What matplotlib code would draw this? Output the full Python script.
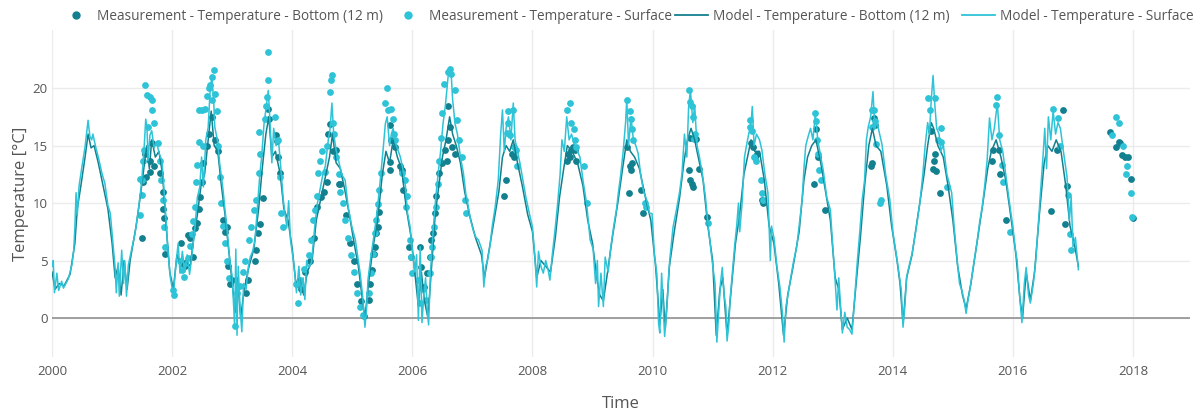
import matplotlib.pyplot as plt
from matplotlib.lines import Line2D
import numpy as np

# Model - surface temperature (decimal year, degC)
model_time = [
    2000.00, 2000.02, 2000.04, 2000.08, 2000.11, 2000.16, 2000.19, 2000.27, 2000.33, 2000.36,
    2000.38, 2000.40, 2000.42, 2000.45, 2000.49, 2000.55, 2000.60, 2000.63, 2000.66, 2000.68,
    2000.73, 2000.77, 2000.83, 2000.88, 2000.93, 2000.97, 2000.99, 2001.03, 2001.05, 2001.07,
    2001.10, 2001.12, 2001.16, 2001.19, 2001.21, 2001.24, 2001.27, 2001.31, 2001.38, 2001.43,
    2001.49, 2001.53, 2001.56, 2001.58, 2001.60, 2001.63, 2001.66, 2001.70, 2001.74, 2001.79,
    2001.83, 2001.86, 2001.88, 2001.93, 2001.97, 2002.02, 2002.06, 2002.10, 2002.13, 2002.17,
    2002.21, 2002.25, 2002.29, 2002.33, 2002.38, 2002.42, 2002.46, 2002.49, 2002.52, 2002.56,
    2002.60, 2002.63, 2002.66, 2002.69, 2002.71, 2002.76, 2002.79, 2002.82, 2002.85, 2002.88,
    2002.91, 2002.93, 2002.96, 2003.00, 2003.02, 2003.04, 2003.06, 2003.08, 2003.10, 2003.13,
    2003.16, 2003.19, 2003.23, 2003.27, 2003.30, 2003.34, 2003.38, 2003.43, 2003.46, 2003.49,
    2003.53, 2003.57, 2003.60, 2003.63, 2003.66, 2003.69, 2003.73, 2003.77, 2003.81, 2003.85,
    2003.88, 2003.91, 2003.94, 2003.97, 2004.01, 2004.04, 2004.07, 2004.11, 2004.14, 2004.18,
    2004.21, 2004.24, 2004.27, 2004.32, 2004.38, 2004.42, 2004.46, 2004.51, 2004.55, 2004.60,
    2004.63, 2004.66, 2004.69, 2004.73, 2004.76, 2004.82, 2004.88, 2004.93, 2004.99, 2005.05,
    2005.10, 2005.13, 2005.17, 2005.21, 2005.24, 2005.26, 2005.30, 2005.35, 2005.41, 2005.46,
    2005.51, 2005.55, 2005.58, 2005.62, 2005.65, 2005.68, 2005.72, 2005.76, 2005.80, 2005.84,
    2005.88, 2005.92, 2005.96, 2006.01, 2006.04, 2006.07, 2006.10, 2006.13, 2006.16, 2006.19,
    2006.22, 2006.25, 2006.27, 2006.30, 2006.35, 2006.39, 2006.43, 2006.47, 2006.51, 2006.55,
    2006.60, 2006.64, 2006.67, 2006.71, 2006.75, 2006.80, 2006.85, 2006.89, 2006.93, 2006.97,
    2007.02, 2007.06, 2007.10, 2007.16, 2007.19, 2007.22, 2007.25, 2007.29, 2007.33, 2007.38,
    2007.43, 2007.47, 2007.50, 2007.53, 2007.56, 2007.60, 2007.64, 2007.68, 2007.71, 2007.75,
    2007.79, 2007.84, 2007.89, 2007.96, 2008.00, 2008.04, 2008.07, 2008.10, 2008.14, 2008.18,
    2008.22, 2008.26, 2008.29, 2008.33, 2008.38, 2008.42, 2008.46, 2008.49, 2008.53, 2008.57,
    2008.61, 2008.65, 2008.70, 2008.75, 2008.79, 2008.84, 2008.90, 2008.96, 2009.01, 2009.05,
    2009.08, 2009.10, 2009.14, 2009.18, 2009.21, 2009.26, 2009.30, 2009.35, 2009.40, 2009.43,
    2009.47, 2009.51, 2009.55, 2009.57, 2009.60, 2009.64, 2009.68, 2009.72, 2009.76, 2009.80,
    2009.85, 2009.90, 2009.95, 2009.99, 2010.03, 2010.07, 2010.10, 2010.12, 2010.15, 2010.18,
    2010.20, 2010.24, 2010.27, 2010.29, 2010.34, 2010.40, 2010.45, 2010.49, 2010.53, 2010.57,
    2010.60, 2010.63, 2010.67, 2010.70, 2010.74, 2010.78, 2010.83, 2010.88, 2010.92, 2010.99,
    2011.04, 2011.07, 2011.10, 2011.13, 2011.16, 2011.19, 2011.22, 2011.24, 2011.27, 2011.29,
    2011.33, 2011.37, 2011.40, 2011.43, 2011.45, 2011.49, 2011.53, 2011.57, 2011.60, 2011.64,
    2011.66, 2011.69, 2011.73, 2011.78, 2011.82, 2011.87, 2011.92, 2011.96, 2011.98, 2012.02,
    2012.07, 2012.12, 2012.16, 2012.19, 2012.22, 2012.26, 2012.30, 2012.35, 2012.40, 2012.44,
    2012.49, 2012.52, 2012.55, 2012.59, 2012.63, 2012.67, 2012.71, 2012.75, 2012.80, 2012.84,
    2012.90, 2012.96, 2012.99, 2013.03, 2013.07, 2013.10, 2013.13, 2013.16, 2013.20, 2013.24,
    2013.28, 2013.32, 2013.37, 2013.41, 2013.45, 2013.49, 2013.53, 2013.56, 2013.59, 2013.63,
    2013.67, 2013.70, 2013.74, 2013.78, 2013.82, 2013.88, 2013.95, 2014.00, 2014.07, 2014.10,
    2014.14, 2014.17, 2014.20, 2014.23, 2014.27, 2014.32, 2014.38, 2014.45, 2014.50, 2014.54,
    2014.58, 2014.61, 2014.64, 2014.67, 2014.70, 2014.73, 2014.77, 2014.80, 2014.84, 2014.90,
    2014.98, 2015.02, 2015.07, 2015.11, 2015.15, 2015.19, 2015.22, 2015.25, 2015.29, 2015.34,
    2015.40, 2015.45, 2015.49, 2015.53, 2015.57, 2015.61, 2015.65, 2015.69, 2015.74, 2015.78,
    2015.83, 2015.87, 2015.93, 2016.00, 2016.04, 2016.07, 2016.11, 2016.15, 2016.19, 2016.22,
    2016.26, 2016.29, 2016.34, 2016.38, 2016.42, 2016.46, 2016.50, 2016.53, 2016.56, 2016.59,
    2016.63, 2016.67, 2016.71, 2016.75, 2016.79, 2016.84, 2016.90, 2016.94, 2016.97, 2017.00,
    2017.04, 2017.09,
]
model_surface = [
    4.5, 5.0, 2.2, 3.9, 2.4, 3.2, 2.6, 3.4, 4.6, 5.8,
    7.9, 10.9, 8.9, 11.5, 12.9, 14.9, 17.2, 15.8, 15.5, 16.0,
    14.8, 14.0, 12.6, 11.7, 9.8, 9.1, 7.9, 5.5, 4.4, 2.2,
    4.8, 1.9, 5.9, 3.0, 5.0, 1.9, 4.6, 5.6, 7.3, 9.1,
    11.7, 14.5, 17.3, 16.6, 13.7, 15.9, 16.3, 14.8, 15.3, 14.2,
    13.7, 11.5, 10.0, 5.9, 3.5, 2.0, 4.5, 6.5, 3.9, 5.8,
    4.0, 5.5, 3.8, 5.5, 7.9, 10.5, 11.4, 14.0, 11.4, 15.5,
    16.6, 19.6, 21.0, 19.0, 16.6, 15.3, 13.5, 12.3, 11.0, 9.4,
    8.0, 6.8, 5.0, 3.6, 1.5, -0.7, 6.0, -1.5, 4.5, 1.0,
    -1.2, 3.0, 2.5, 4.5, 5.3, 5.8, 6.8, 10.3, 12.5, 14.0,
    16.9, 18.5, 19.8, 17.0, 13.5, 16.5, 15.0, 15.5, 13.0, 10.3,
    9.0, 7.9, 10.2, 6.8, 5.3, 4.0, 2.2, 4.5, 2.0, 3.5,
    1.6, 5.0, 4.4, 4.8, 8.3, 10.0, 11.1, 12.5, 13.2, 15.5,
    16.5, 18.7, 16.0, 14.6, 14.0, 12.5, 12.0, 9.7, 8.0, 6.8,
    5.0, 3.9, 2.0, -0.8, 1.0, 3.3, 5.0, 6.8, 9.1, 11.7,
    14.5, 16.9, 17.5, 15.0, 16.0, 16.5, 15.2, 14.6, 14.0, 13.0,
    11.7, 9.1, 8.0, 5.3, 4.0, 5.5, -0.2, 6.2, -0.4, 2.0,
    3.5, 0.5, -0.6, 3.9, 7.9, 10.5, 12.6, 14.5, 16.9, 18.5,
    21.3, 21.8, 19.0, 16.9, 16.0, 14.0, 12.6, 10.8, 9.7, 8.5,
    7.5, 7.0, 6.8, 5.9, 2.7, 4.5, 5.0, 6.2, 8.0, 9.7,
    12.0, 16.0, 18.1, 14.5, 16.5, 17.5, 15.5, 18.7, 15.5, 14.5,
    13.5, 12.0, 10.5, 8.8, 7.9, 5.3, 2.7, 5.8, 4.5, 3.9,
    5.0, 4.2, 3.3, 5.5, 7.9, 10.0, 12.5, 15.5, 14.5, 17.5,
    15.5, 16.0, 15.0, 14.5, 14.0, 12.0, 10.0, 6.8, 6.0, 3.0,
    5.0, 1.0, 3.9, 1.0, 5.3, 4.0, 6.0, 7.9, 9.5, 10.9,
    12.5, 14.5, 17.0, 19.0, 15.0, 17.5, 15.5, 15.0, 14.3, 12.5,
    11.0, 10.3, 9.1, 9.1, 5.5, 3.9, -0.5, -1.3, 3.9, 0.5,
    -1.6, 1.0, 4.0, 5.3, 7.9, 9.5, 11.0, 12.6, 16.0, 14.0,
    18.4, 19.8, 17.0, 18.5, 15.0, 14.0, 12.5, 10.5, 8.3, 5.0,
    3.0, -2.1, 0.5, 3.0, 4.4, 2.0, 1.0, -2.0, -0.5, 1.6,
    4.0, 6.5, 8.0, 10.0, 7.5, 10.0, 14.0, 15.2, 16.0, 17.0,
    18.4, 15.0, 16.0, 15.5, 14.6, 12.5, 10.9, 5.0, 8.0, 7.0,
    4.5, 2.7, 0.5, -2.1, 1.0, 2.2, 3.5, 5.0, 6.2, 8.0,
    10.3, 13.0, 15.0, 15.8, 16.5, 15.5, 17.8, 15.5, 14.0, 12.9,
    10.5, 9.4, 7.0, 4.0, 0.7, 3.5, 1.0, -1.3, 0.5, -0.8,
    -1.0, -1.4, 2.2, 5.0, 7.5, 10.3, 12.0, 15.5, 16.6, 17.5,
    19.7, 16.5, 17.0, 16.0, 15.1, 12.5, 10.3, 7.5, 5.1, 4.0,
    2.5, -0.8, 1.0, 3.6, 4.5, 5.6, 7.5, 10.0, 12.5, 15.1,
    17.0, 16.0, 19.0, 21.1, 18.5, 16.5, 16.0, 14.5, 15.1, 12.5,
    10.9, 8.0, 5.1, 3.0, 2.4, 1.5, 0.4, 1.5, 2.7, 4.5,
    6.5, 8.5, 9.7, 11.5, 13.7, 17.4, 15.5, 16.5, 18.7, 15.5,
    14.5, 12.9, 10.5, 7.9, 6.0, 5.0, 2.0, -0.4, 3.0, 4.4,
    2.0, 1.3, 3.0, 5.0, 8.0, 11.0, 14.0, 16.5, 13.0, 17.5,
    15.5, 18.0, 16.0, 17.0, 16.5, 14.5, 12.3, 8.5, 10.5, 6.2,
    7.0, 4.2,
]

# Model - bottom (12 m) temperature
bottom_time = [
    2000.00, 2000.05, 2000.12, 2000.20, 2000.30, 2000.38, 2000.42, 2000.48, 2000.55, 2000.60,
    2000.65, 2000.70, 2000.77, 2000.85, 2000.93, 2001.00, 2001.05, 2001.10, 2001.15, 2001.20,
    2001.25, 2001.30, 2001.40, 2001.48, 2001.54, 2001.58, 2001.62, 2001.66, 2001.72, 2001.78,
    2001.84, 2001.90, 2001.96, 2002.02, 2002.08, 2002.15, 2002.22, 2002.30, 2002.36, 2002.42,
    2002.48, 2002.54, 2002.60, 2002.65, 2002.70, 2002.76, 2002.82, 2002.88, 2002.94, 2003.00,
    2003.05, 2003.09, 2003.14, 2003.20, 2003.28, 2003.36, 2003.44, 2003.50, 2003.56, 2003.61,
    2003.66, 2003.72, 2003.80, 2003.86, 2003.93, 2004.00, 2004.06, 2004.12, 2004.19, 2004.25,
    2004.33, 2004.40, 2004.48, 2004.56, 2004.62, 2004.67, 2004.73, 2004.80, 2004.88, 2004.95,
    2005.03, 2005.10, 2005.17, 2005.21, 2005.27, 2005.34, 2005.42, 2005.50, 2005.56, 2005.62,
    2005.68, 2005.75, 2005.82, 2005.90, 2005.98, 2006.03, 2006.10, 2006.15, 2006.20, 2006.26,
    2006.32, 2006.38, 2006.44, 2006.50, 2006.56, 2006.62, 2006.67, 2006.73, 2006.80, 2006.87,
    2006.95, 2007.05, 2007.15, 2007.20, 2007.28, 2007.36, 2007.44, 2007.50, 2007.56, 2007.62,
    2007.68, 2007.75, 2007.83, 2007.92, 2008.00, 2008.07, 2008.14, 2008.22, 2008.30, 2008.38,
    2008.45, 2008.52, 2008.58, 2008.66, 2008.75, 2008.84, 2008.92, 2009.00, 2009.07, 2009.12,
    2009.18, 2009.25, 2009.33, 2009.42, 2009.50, 2009.57, 2009.63, 2009.70, 2009.78, 2009.88,
    2009.97, 2010.05, 2010.12, 2010.17, 2010.21, 2010.28, 2010.36, 2010.45, 2010.52, 2010.58,
    2010.64, 2010.70, 2010.76, 2010.84, 2010.92, 2011.00, 2011.06, 2011.12, 2011.17, 2011.24,
    2011.30, 2011.38, 2011.45, 2011.52, 2011.58, 2011.64, 2011.70, 2011.78, 2011.86, 2011.94,
    2012.02, 2012.10, 2012.18, 2012.25, 2012.34, 2012.44, 2012.52, 2012.58, 2012.65, 2012.72,
    2012.80, 2012.88, 2012.96, 2013.04, 2013.10, 2013.16, 2013.24, 2013.32, 2013.38, 2013.46,
    2013.53, 2013.60, 2013.66, 2013.72, 2013.80, 2013.90, 2013.98, 2014.07, 2014.12, 2014.17,
    2014.23, 2014.32, 2014.42, 2014.52, 2014.58, 2014.64, 2014.68, 2014.75, 2014.84, 2014.92,
    2015.00, 2015.08, 2015.16, 2015.22, 2015.30, 2015.40, 2015.50, 2015.58, 2015.64, 2015.72,
    2015.80, 2015.88, 2015.96, 2016.05, 2016.12, 2016.16, 2016.22, 2016.29, 2016.36, 2016.44,
    2016.52, 2016.58, 2016.65, 2016.72, 2016.80, 2016.88, 2016.95, 2017.02, 2017.09,
]
model_bottom = [
    4.0, 2.5, 3.0, 2.8, 3.8, 6.5, 9.5, 11.5, 14.0, 16.0,
    14.8, 15.0, 13.5, 11.5, 9.5, 6.5, 3.5, 4.5, 2.0, 5.0,
    2.5, 5.0, 8.0, 11.0, 13.5, 15.0, 13.0, 15.5, 14.0, 14.5,
    12.5, 8.0, 4.0, 2.5, 5.5, 4.5, 5.0, 4.5, 7.0, 9.0,
    11.5, 12.5, 15.5, 18.0, 15.0, 14.5, 11.5, 9.0, 6.0, 3.0,
    0.5, 3.5, 0.0, 2.5, 4.5, 6.0, 9.5, 13.0, 16.0, 17.5,
    14.0, 14.5, 12.5, 9.5, 8.5, 6.0, 3.0, 3.5, 2.0, 4.0,
    5.0, 8.5, 10.5, 12.5, 14.0, 16.0, 13.5, 13.0, 11.0, 9.0,
    6.5, 4.5, 1.5, 0.0, 3.0, 6.0, 8.5, 12.5, 14.5, 13.5,
    15.5, 14.0, 13.0, 9.5, 7.0, 4.5, 1.0, 4.0, 1.5, 0.0,
    4.5, 9.0, 11.5, 14.0, 15.5, 17.5, 16.0, 15.0, 13.5, 11.0,
    9.0, 7.0, 5.5, 3.5, 6.0, 8.5, 11.0, 14.0, 15.0, 14.5,
    15.5, 13.5, 11.5, 9.0, 7.5, 3.5, 5.0, 4.5, 4.0, 7.0,
    10.5, 13.0, 15.0, 14.5, 13.5, 11.5, 8.5, 6.5, 3.5, 2.0,
    1.5, 4.0, 7.0, 10.0, 13.0, 15.5, 14.5, 14.0, 13.0, 10.5,
    8.5, 4.5, -0.5, 2.5, -1.0, 4.5, 7.5, 10.5, 13.5, 15.5,
    16.5, 15.5, 14.0, 12.0, 8.0, 5.0, -1.5, 2.5, 3.5, -1.5,
    2.0, 6.5, 9.0, 12.5, 14.0, 15.5, 14.5, 14.5, 12.0, 8.0,
    6.5, 3.0, -1.5, 2.0, 4.5, 7.5, 12.0, 14.0, 15.0, 15.5,
    13.5, 11.0, 8.5, 3.5, 2.5, -1.0, 0.0, -1.0, 2.5, 7.0,
    11.5, 15.0, 16.5, 15.0, 14.5, 11.5, 8.0, 5.0, 3.0, -0.5,
    3.5, 5.5, 9.0, 12.5, 15.0, 17.0, 16.5, 15.0, 14.0, 11.5,
    8.5, 4.5, 2.0, 0.8, 3.0, 6.5, 10.0, 13.0, 14.5, 15.5,
    14.0, 12.0, 9.0, 5.5, 1.5, 0.0, 4.0, 1.5, 4.0, 9.0,
    13.5, 15.0, 14.5, 15.5, 14.5, 11.5, 8.0, 6.5, 4.5,
]

# Measurement - surface temperature
meas_surface_time = [
    2001.47, 2001.47, 2001.50, 2001.49, 2001.52, 2001.53, 2001.55, 2001.58, 2001.60, 2001.63,
    2001.66, 2001.66, 2001.69, 2001.76, 2001.80, 2001.81, 2001.84, 2001.86, 2001.88, 2002.02,
    2002.03,
    2002.13, 2002.17, 2002.19, 2002.22, 2002.27, 2002.30, 2002.33, 2002.35, 2002.38, 2002.40,
    2002.41, 2002.44, 2002.45, 2002.49, 2002.52, 2002.54, 2002.58, 2002.61, 2002.63, 2002.66,
    2002.69, 2002.67, 2002.71, 2002.74, 2002.76, 2002.79, 2002.82, 2002.85, 2002.88, 2002.91,
    2002.95, 2003.05,
    2003.08, 2003.13, 2003.18, 2003.22, 2003.28, 2003.32, 2003.36, 2003.40, 2003.44, 2003.46,
    2003.44, 2003.55, 2003.56, 2003.58, 2003.59, 2003.60, 2003.71, 2003.77, 2003.79, 2003.82,
    2003.85,
    2004.07, 2004.10, 2004.13, 2004.20, 2004.28, 2004.32, 2004.35, 2004.38, 2004.41, 2004.43,
    2004.46, 2004.50, 2004.55, 2004.58, 2004.63, 2004.65, 2004.66, 2004.68, 2004.70, 2004.73,
    2004.77, 2004.80, 2004.84, 2004.88, 2004.93, 2004.97, 2005.02, 2005.08, 2005.13, 2005.18,
    2005.28, 2005.31, 2005.34, 2005.37, 2005.40, 2005.42, 2005.44, 2005.47, 2005.55, 2005.57,
    2005.60, 2005.65, 2005.67, 2005.69, 2005.71, 2005.82, 2005.88, 2005.91, 2005.90, 2005.96,
    2005.98, 2006.00,
    2006.10, 2006.12, 2006.17, 2006.22, 2006.29, 2006.31, 2006.33, 2006.36, 2006.39, 2006.43,
    2006.45, 2006.47, 2006.49, 2006.52, 2006.60, 2006.63, 2006.65, 2006.71, 2006.74, 2006.77,
    2006.83, 2006.88, 2006.90,
    2007.57, 2007.59, 2007.60, 2007.67, 2007.62, 2007.69, 2007.72, 2007.74,
    2008.57, 2008.62, 2008.64, 2008.69, 2008.71, 2008.73, 2008.85, 2008.90,
    2009.57, 2009.62, 2009.64, 2009.66, 2009.68, 2009.87, 2009.89,
    2010.60, 2010.63, 2010.65, 2010.68, 2010.70, 2010.69, 2010.92,
    2011.62, 2011.63, 2011.65, 2011.69, 2011.72, 2011.80, 2011.82, 2011.84,
    2012.71, 2012.72, 2012.74, 2012.75, 2012.77, 2012.80,
    2013.65, 2013.66, 2013.69, 2013.70, 2013.72, 2013.79, 2013.80,
    2014.59, 2014.70, 2014.62, 2014.80, 2014.75, 2014.81, 2014.90,
    2015.73, 2015.71, 2015.77, 2015.82, 2015.84, 2015.95,
    2016.67, 2016.75, 2016.78, 2016.91, 2016.97, 2016.95,
    2017.72, 2017.77, 2017.65, 2017.83, 2017.90, 2017.88, 2017.97, 2017.99,
]
meas_surface = [
    12.1, 9.0, 10.7, 12.0, 13.7, 14.6, 20.3, 19.4, 16.6, 19.2,
    19.0, 18.1, 17.0, 15.2, 13.7, 12.0, 10.3, 7.9, 6.2, 2.4,
    2.0,
    5.0, 4.2, 3.6, 4.8, 5.2, 6.3, 7.3, 8.4, 9.7, 11.8,
    13.3, 15.3, 18.1, 18.1, 15.0, 18.2, 19.3, 20.0, 20.3, 21.0,
    21.6, 19.0, 19.5, 18.0, 15.0, 12.3, 10.0, 8.0, 6.5, 5.0,
    3.5, -0.7,
    2.2, 2.8, 4.0, 5.0, 6.8, 7.9, 9.4, 10.3, 12.6, 14.3,
    16.2, 17.3, 18.4, 19.2, 20.7, 23.1, 17.5, 15.5, 12.3, 9.1,
    7.9,
    3.0, 1.3, 3.3, 4.3, 5.5, 6.8, 8.5, 9.4, 10.6, 12.6,
    13.7, 14.5, 12.7, 15.0, 19.7, 20.7, 21.1, 17.0, 16.0, 14.0,
    12.5, 11.0, 10.0, 8.5, 7.0, 5.5, 4.0, 2.2, 1.0, 0.3,
    2.2, 3.9, 5.6, 7.4, 8.5, 9.9, 11.1, 12.6, 18.7, 20.0,
    18.1, 18.2, 17.3, 16.0, 15.5, 12.6, 12.0, 10.6, 9.7, 6.8,
    5.3, 3.9,
    3.3, 1.3, 2.5, 1.6, 3.9, 5.3, 6.2, 7.9, 9.7, 11.7,
    13.7, 15.7, 17.8, 20.4, 21.4, 21.7, 21.2, 19.8, 17.2, 15.5,
    14.0, 10.3, 9.1,
    16.1, 17.0, 18.0, 18.1, 15.9, 14.9, 14.6, 13.2,
    18.1, 18.7, 17.0, 16.4, 15.5, 14.9, 13.2, 10.0,
    19.0, 18.0, 17.3, 16.4, 15.5, 10.0, 9.7,
    19.8, 18.8, 18.4, 17.5, 16.0, 15.6, 8.3,
    17.2, 16.6, 16.3, 14.0, 13.7, 12.0, 10.9, 10.3,
    17.8, 17.1, 15.5, 14.3, 12.9, 12.0,
    16.6, 18.1, 18.1, 17.1, 15.1, 10.0, 10.3,
    19.1, 19.1, 18.1, 16.5, 15.5, 15.3, 11.4,
    19.2, 18.5, 15.9, 13.3, 11.8, 7.5,
    18.2, 17.4, 15.0, 10.7, 5.9, 7.3,
    17.5, 17.0, 15.9, 15.0, 13.2, 12.5, 10.9, 8.8,
]

# Measurement - bottom (12 m) temperature
meas_bottom_time = [
    2001.50, 2001.52, 2001.55, 2001.56, 2001.63, 2001.63, 2001.66, 2001.69, 2001.79, 2001.84,
    2001.85, 2001.86, 2001.88,
    2002.15, 2002.21, 2002.27, 2002.30, 2002.35, 2002.38, 2002.42, 2002.44, 2002.47, 2002.50,
    2002.52, 2002.58, 2002.62, 2002.66, 2002.72, 2002.76, 2002.84, 2002.88, 2002.92, 2002.93,
    2002.97, 2002.99,
    2003.23, 2003.26, 2003.38, 2003.40, 2003.43, 2003.47, 2003.51, 2003.60, 2003.61, 2003.73,
    2003.74, 2003.77, 2003.80,
    2004.08, 2004.15, 2004.22, 2004.30, 2004.36, 2004.42, 2004.48, 2004.53, 2004.58, 2004.60,
    2004.62, 2004.68, 2004.73, 2004.77, 2004.80, 2004.90, 2004.96, 2005.02, 2005.08, 2005.15,
    2005.20,
    2005.27, 2005.30, 2005.33, 2005.36, 2005.38, 2005.40, 2005.42, 2005.45, 2005.62, 2005.62,
    2005.63, 2005.65, 2005.71, 2005.79, 2005.82, 2005.84, 2005.95, 2005.98,
    2006.13, 2006.15, 2006.19, 2006.24, 2006.29, 2006.31, 2006.35, 2006.37, 2006.40, 2006.44,
    2006.49, 2006.54, 2006.57, 2006.59, 2006.62, 2006.60, 2006.66, 2006.71,
    2007.53, 2007.56, 2007.66, 2007.69,
    2008.59, 2008.62, 2008.64, 2008.67, 2008.70, 2008.73, 2008.57,
    2009.58, 2009.62, 2009.64, 2009.60, 2009.66, 2009.84, 2009.80,
    2010.62, 2010.60, 2010.63, 2010.65, 2010.68, 2010.72, 2010.77, 2010.90,
    2011.64, 2011.67, 2011.71, 2011.74, 2011.82, 2011.84,
    2012.72, 2012.68, 2012.76, 2012.87,
    2013.64, 2013.66, 2013.68, 2013.70,
    2014.63, 2014.68, 2014.67, 2014.70, 2014.72, 2014.79,
    2015.65, 2015.67, 2015.77, 2015.79, 2015.88,
    2016.64, 2016.83, 2016.73, 2016.90, 2016.86,
    2017.62, 2017.71, 2017.76, 2017.79, 2017.82, 2017.87, 2017.92, 2017.97, 2018.00,
]
meas_bottom = [
    7.0, 11.8, 14.3, 12.3, 13.7, 12.7, 15.2, 13.2, 12.6, 11.0,
    9.5, 8.7, 5.6,
    6.5, 4.5, 7.2, 7.0, 5.3, 7.8, 8.3, 9.5, 10.5, 11.8,
    13.5, 15.0, 16.0, 17.5, 15.5, 14.5, 8.5, 7.5, 7.9, 4.5,
    3.0, 3.3,
    2.2, 3.3, 5.0, 5.9, 7.4, 8.2, 10.4, 18.2, 17.3, 15.9,
    15.4, 14.0, 12.6,
    3.0, 2.5, 4.0, 5.0, 7.0, 9.7, 10.5, 11.0, 11.8, 16.0,
    16.9, 14.5, 14.6, 11.7, 11.7, 9.0, 6.5, 5.0, 3.0, 1.5,
    0.2,
    1.6, 3.0, 4.2, 5.6, 6.2, 7.4, 7.9, 9.2, 16.8, 13.6,
    12.9, 15.5, 14.9, 13.2, 12.9, 11.1, 6.2, 5.3,
    6.2, 4.4, 2.7, 3.9, 5.3, 6.8, 7.4, 9.1, 10.6, 12.6,
    13.5, 14.6, 13.7, 15.5, 16.6, 18.4, 14.9, 14.3,
    10.6, 12.0, 14.3, 14.0,
    14.3, 14.0, 14.6, 14.9, 14.6, 13.7, 13.7,
    14.9, 13.2, 12.9, 10.9, 13.5, 9.1, 11.1,
    15.7, 12.9, 12.0, 11.7, 11.4, 15.6, 13.0, 8.8,
    15.2, 14.9, 14.0, 14.3, 10.3, 10.0,
    16.4, 11.7, 14.0, 9.4,
    13.2, 13.5, 17.4, 16.8,
    16.3, 13.7, 13.0, 14.3, 12.8, 10.9,
    13.7, 14.6, 14.6, 12.5, 8.5,
    9.3, 18.1, 14.6, 11.5, 8.2,
    16.2, 14.9, 15.3, 15.2, 14.2, 14.0, 14.0, 12.1, 8.7,
]

year_ticks = [2000, 2002, 2004, 2006, 2008, 2010, 2012, 2014, 2016, 2018]
temp_ticks = [0, 5, 10, 15, 20]

dark = '#12808e'
light = '#2ec3d7'
text_col = '#555555'

plt.rcParams['font.family'] = ['Open Sans', 'DejaVu Sans']

fig = plt.figure(figsize=(12.02, 4.19), dpi=100)
ax = fig.add_axes([0.0433, 0.148, 0.9468, 0.780])

ax.scatter(meas_bottom_time, meas_bottom, s=24, color=dark, linewidths=0, zorder=2)
ax.scatter(meas_surface_time, meas_surface, s=24, color=light, linewidths=0, zorder=2)
ax.plot(bottom_time, model_bottom, color=dark, lw=1.1, zorder=3)
ax.plot(model_time, model_surface, color=light, lw=1.1, zorder=3)

ax.set_xlim(2000, 2018.95)
ax.set_ylim(-3.39, 25.04)
ax.set_xticks(year_ticks)
ax.set_xticklabels([str(y) for y in year_ticks])
ax.set_yticks(temp_ticks)
ax.grid(True, color='#ebebeb', lw=1)
ax.set_axisbelow(True)
ax.axhline(0, color='#999999', lw=1.3, zorder=1)
for s in ax.spines.values():
    s.set_visible(False)
ax.tick_params(length=0, labelsize=9.5, colors=text_col)
ax.tick_params(axis='y', pad=3)
ax.tick_params(axis='x', pad=6)
ax.set_ylabel('Temperature [°C]', fontsize=12, color=text_col, labelpad=3)
ax.set_xlabel('Time', fontsize=12, color=text_col, labelpad=13)

# legend entries placed one by one along the top, like the original
entries = [
    (Line2D([], [], ls='', marker='o', ms=5, color=dark),
     'Measurement - Temperature - Bottom (12 m)', 59),
    (Line2D([], [], ls='', marker='o', ms=5, color=light),
     'Measurement - Temperature - Surface', 391),
    (Line2D([], [], color=dark, lw=1.3),
     'Model - Temperature - Bottom (12 m)', 675),
    (Line2D([], [], color=light, lw=1.3),
     'Model - Temperature - Surface', 962),
]
for handle, label, xpix in entries:
    fig.legend([handle], [label], loc='center left',
               bbox_to_anchor=(xpix / 1202, 1 - 16 / 419), frameon=False,
               fontsize=9.8, labelcolor=text_col, handlelength=2.43,
               handletextpad=0.33, borderpad=0, borderaxespad=0, numpoints=1)

fig.savefig('out.png', dpi=100)
